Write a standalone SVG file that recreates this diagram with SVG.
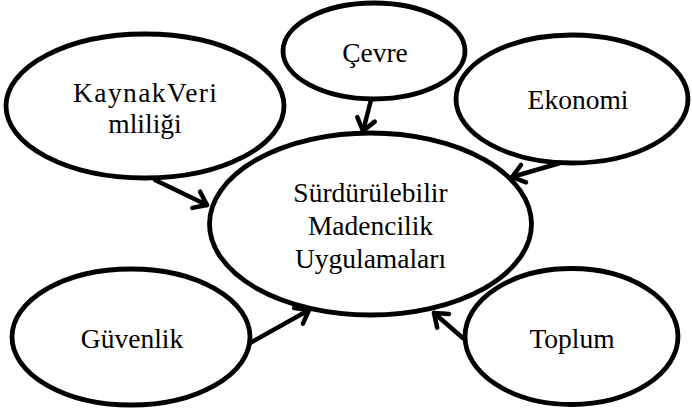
<svg xmlns="http://www.w3.org/2000/svg" width="692" height="410" viewBox="0 0 692 410">
<defs>
<style>
.node ellipse{fill:#fff;stroke:#000;stroke-width:4.8}
.node text{font-family:"Liberation Serif","Times New Roman",serif;font-size:27.5px;fill:#000;text-anchor:middle}
.edge{stroke:#000;stroke-width:4.5;fill:none;stroke-linecap:round;marker-end:url(#arr)}
</style>
<marker id="arr" markerUnits="userSpaceOnUse" viewBox="-16 -12 20 24" markerWidth="20" markerHeight="24" refX="0" refY="0" orient="auto" overflow="visible">
<path d="M-12,-9 L0,0 L-12,9" fill="none" stroke="#000" stroke-width="4.5" stroke-linecap="round" stroke-linejoin="round"/>
</marker>
</defs>
<rect width="692" height="410" fill="#fff"/>
<g id="node-center" class="node">
<ellipse cx="370.5" cy="224" rx="161" ry="91"/>
<text x="370.5" y="202">Sürdürülebilir</text>
<text x="370.5" y="235">Madencilik</text>
<text x="370.5" y="268">Uygulamaları</text>
</g>
<g id="node-kaynak" class="node">
<ellipse cx="145" cy="106" rx="139" ry="72"/>
<text x="145" y="102" textLength="144" lengthAdjust="spacing">KaynakVeri</text>
<text x="145" y="133">mliliği</text>
</g>
<g id="node-cevre" class="node">
<ellipse cx="374" cy="51" rx="91" ry="48"/>
<text x="375" y="62">Çevre</text>
</g>
<g id="node-ekonomi" class="node">
<ellipse cx="572" cy="99" rx="116" ry="64"/>
<text x="578" y="109">Ekonomi</text>
</g>
<g id="node-guvenlik" class="node">
<ellipse cx="131" cy="337" rx="119" ry="68"/>
<text x="132" y="348">Güvenlik</text>
</g>
<g id="node-toplum" class="node">
<ellipse cx="571.5" cy="336.5" rx="106.5" ry="68"/>
<text x="572" y="348">Toplum</text>
</g>
<g id="connectors">
<line class="edge" x1="155" y1="180" x2="207" y2="205"/>
<line class="edge" x1="371" y1="100" x2="363" y2="131"/>
<line class="edge" x1="560" y1="163" x2="512" y2="177"/>
<line class="edge" x1="250" y1="343" x2="309" y2="310"/>
<line class="edge" x1="464" y1="339" x2="434" y2="313"/>
</g>
</svg>
